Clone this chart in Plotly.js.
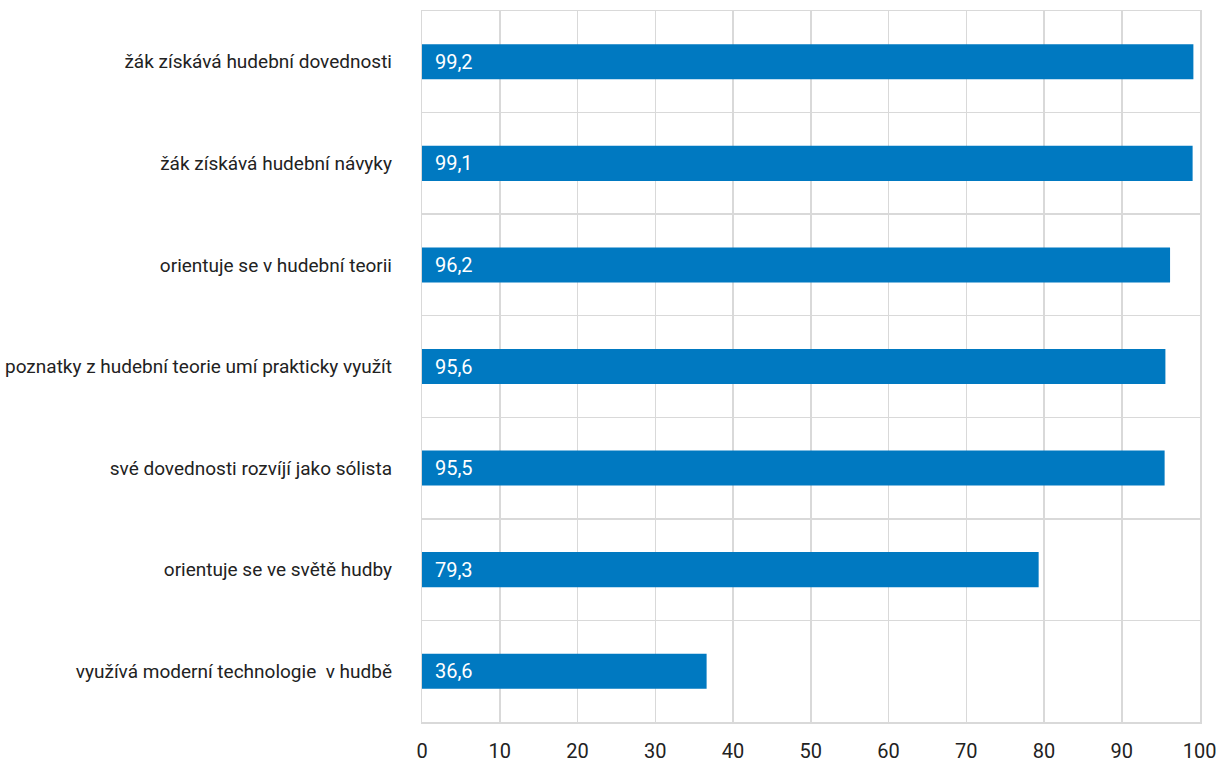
<!DOCTYPE html>
<html>
<head>
<meta charset="utf-8">
<script src="https://cdn.plot.ly/plotly-3.0.1.min.js"></script>
<style>
html,body{margin:0;padding:0;background:#fff;}
#chart{width:1217px;height:765px;}
</style>
</head>
<body>
<div id="chart"></div>
<script>
const categories = [
  "žák získává hudební dovednosti ",
  "žák získává hudební návyky ",
  "orientuje se v hudební teorii ",
  "poznatky z hudební teorie umí prakticky využít ",
  "své dovednosti rozvíjí jako sólista ",
  "orientuje se ve světě hudby ",
  "využívá moderní technologie  v hudbě "
];
const values = [99.2, 99.1, 96.2, 95.6, 95.5, 79.3, 36.6];
const xTicks = [0, 10, 20, 30, 40, 50, 60, 70, 80, 90, 100];

const labels = values.map(v => "  " + v.toFixed(1).replace(".", ","));
const font = "Roboto, 'Liberation Sans', sans-serif";

const trace = {
  type: "bar",
  orientation: "h",
  x: values,
  y: categories,
  text: labels,
  textposition: "inside",
  insidetextanchor: "start",
  textfont: {color: "#ffffff", size: 20, family: font},
  constraintext: "none",
  marker: {color: "#0079C1", line: {width: 0}},
  width: 0.345,
  hoverinfo: "none",
  cliponaxis: false
};

const layout = {
  width: 1217,
  height: 765,
  margin: {l: 422, r: 17, t: 11, b: 43},
  paper_bgcolor: "#ffffff",
  plot_bgcolor: "#ffffff",
  showlegend: false,
  font: {family: font, color: "#222222", size: 20},
  xaxis: {
    range: [0, 100.05],
    tickvals: xTicks,
    ticktext: xTicks.map(String),
    ticklabeloverflow: "allow",
    showgrid: true,
    gridcolor: "#d9d9d9",
    gridwidth: 1.5,
    zeroline: false,
    showline: true,
    mirror: true,
    linecolor: "#d9d9d9",
    linewidth: 1.5,
    ticks: "outside",
    ticklen: 10,
    tickcolor: "rgba(0,0,0,0)",
    tickfont: {size: 20, family: font, color: "#222222"},
    fixedrange: true
  },
  yaxis: {
    type: "category",
    autorange: "reversed",
    categoryorder: "array",
    categoryarray: categories,
    tickson: "boundaries",
    showgrid: true,
    gridcolor: "#d9d9d9",
    gridwidth: 1.5,
    showline: true,
    mirror: true,
    linecolor: "#d9d9d9",
    linewidth: 1.5,
    ticks: "",
    ticklabelstandoff: 20,
    tickfont: {size: 19, family: font, color: "#222222"},
    fixedrange: true
  }
};

Plotly.newPlot("chart", [trace], layout, {displayModeBar: false, staticPlot: true});
</script>
</body>
</html>
